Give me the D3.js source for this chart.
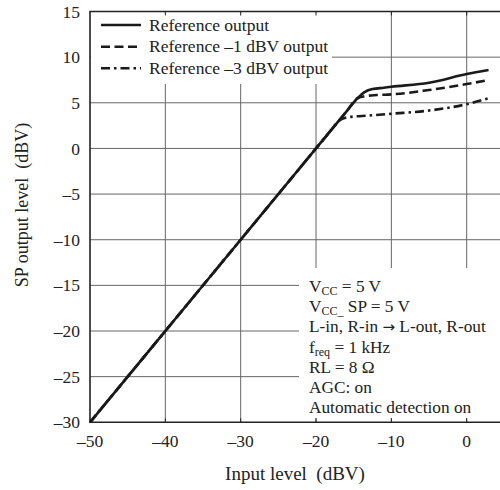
<!DOCTYPE html>
<html>
<head>
<meta charset="utf-8">
<script src="https://cdn.jsdelivr.net/npm/d3@7"></script>
<style>
  body { margin: 0; background: #fff; }
  svg text { font-family: "Liberation Serif", "Times New Roman", serif; fill: #222; white-space: pre; }
</style>
</head>
<body>
<div id="chart"></div>
<script>
// tick values
const xTicks = [-50, -40, -30, -20, -10, 0];
const yTicks = [-30, -25, -20, -15, -10, -5, 0, 5, 10, 15];

// curves (input dBV -> output dBV)
const refIn   = [-50, -40, -30, -20, -16, -14.5, -13.5, -12.5, -11, -10, -5, 0, 2.9];
const refOut  = [-30, -20, -10, 0, 4, 5.5, 6.2, 6.5, 6.65, 6.75, 7.2, 8.15, 8.6];
const ref1In  = [-50, -40, -30, -20, -16, -14.5, -13.3, -12, -10, -5, 0, 2.9];
const ref1Out = [-30, -20, -10, 0, 4, 5.5, 5.75, 5.85, 5.92, 6.4, 7.05, 7.5];
const ref3In  = [-50, -40, -30, -20, -18, -17, -15.5, -13, -10, -5, 0, 2.9];
const ref3Out = [-30, -20, -10, 0, 2, 3, 3.45, 3.6, 3.8, 4.15, 4.85, 5.5];

const legendLabels = ["Reference output", "Reference \u20131 dBV output", "Reference \u20133 dBV output"];
const notes = ["V|CC| = 5 V", "V|CC_| SP = 5 V", "L-in, R-in \u2192 L-out, R-out", "f|req| = 1 kHz", "RL = 8 \u03a9", "AGC: on", "Automatic detection on"];

const width = 500, height = 490;
const marginLeft = 90, marginRight = 0, marginTop = 11.5, marginBottom = 67.7;

const minus = v => (v < 0 ? "\u2013" + Math.abs(v) : String(v));

const x = d3.scaleLinear([-50, 0], [marginLeft, 466.7]);
const y = d3.scaleLinear([-30, 15], [height - marginBottom, marginTop]);
const x1 = width - marginRight, y1 = height - marginBottom;

const svg = d3.select("#chart").append("svg")
    .attr("width", width)
    .attr("height", height)
    .attr("viewBox", [0, 0, width, height]);

// grid
svg.append("g")
    .attr("stroke", "#666")
    .attr("stroke-width", 1)
    .call(g => g.selectAll(".v").data(xTicks.slice(1)).join("line")
        .attr("x1", d => x(d)).attr("x2", d => x(d))
        .attr("y1", marginTop).attr("y2", y1))
    .call(g => g.selectAll(".h").data(yTicks.slice(1, -1)).join("line")
        .attr("y1", d => y(d)).attr("y2", d => y(d))
        .attr("x1", marginLeft).attr("x2", x1));

// white boxes for legend and notes
svg.append("rect").attr("fill", "#fff")
    .attr("x", marginLeft + 1).attr("y", marginTop + 1)
    .attr("width", 332 - marginLeft - 1).attr("height", 84 - marginTop - 1);
svg.append("rect").attr("fill", "#fff")
    .attr("x", 299).attr("y", 268)
    .attr("width", x1 - 299).attr("height", 150);

// inner ticks on top and bottom
svg.append("g")
    .attr("stroke", "#222")
    .attr("stroke-width", 1)
    .selectAll("line")
    .data(xTicks.slice(1))
    .join("line")
    .attr("x1", d => x(d)).attr("x2", d => x(d))
    .attr("y1", y1).attr("y2", y1 - 4);
svg.append("g")
    .attr("stroke", "#222")
    .attr("stroke-width", 1)
    .selectAll("line")
    .data(xTicks.slice(1))
    .join("line")
    .attr("x1", d => x(d)).attr("x2", d => x(d))
    .attr("y1", marginTop).attr("y2", marginTop + 4);

// frame (left, top, bottom)
svg.append("path")
    .attr("fill", "none")
    .attr("stroke", "#222")
    .attr("stroke-width", 1.6)
    .attr("d", `M${x1},${marginTop}H${marginLeft}V${y1}H${x1}`);

// curves
const line = d3.line().x(d => x(d[0])).y(d => y(d[1])).curve(d3.curveMonotoneX);
const series = [
    { xs: ref3In, ys: ref3Out, dash: "9,4,2.5,4" },
    { xs: ref1In, ys: ref1Out, dash: "9,4.5" },
    { xs: refIn, ys: refOut, dash: null }
];
svg.append("g")
    .attr("fill", "none")
    .attr("stroke", "#1a1a1a")
    .attr("stroke-width", 2.6)
    .selectAll("path")
    .data(series)
    .join("path")
    .attr("stroke-dasharray", d => d.dash)
    .attr("d", d => line(d.xs.map((v, i) => [v, d.ys[i]])));

// axis labels
svg.append("g")
    .attr("font-size", 17.5)
    .attr("text-anchor", "middle")
    .selectAll("text")
    .data(xTicks)
    .join("text")
    .attr("x", d => x(d))
    .attr("y", 447)
    .text(minus);
svg.append("g")
    .attr("font-size", 17.5)
    .attr("text-anchor", "end")
    .selectAll("text")
    .data(yTicks)
    .join("text")
    .attr("x", 80)
    .attr("y", d => y(d))
    .attr("dy", "0.35em")
    .text(minus);

svg.append("text")
    .attr("x", (marginLeft + x1) / 2)
    .attr("y", 480)
    .attr("font-size", 19)
    .attr("text-anchor", "middle")
    .text("Input level  (dBV)");
svg.append("text")
    .attr("transform", `translate(28,205) rotate(-90)`)
    .attr("font-size", 18)
    .attr("text-anchor", "middle")
    .text("SP output level  (dBV)");

// legend
const legendY = [25, 46.7, 68.3];
const lg = svg.append("g");
lg.selectAll("line")
    .data(series.slice().reverse())
    .join("line")
    .attr("x1", 101).attr("x2", 141)
    .attr("y1", (d, i) => legendY[i]).attr("y2", (d, i) => legendY[i])
    .attr("stroke", "#1a1a1a")
    .attr("stroke-width", 2.6)
    .attr("stroke-dasharray", d => d.dash);
lg.selectAll("text")
    .data(legendLabels)
    .join("text")
    .attr("x", 149)
    .attr("y", (d, i) => legendY[i])
    .attr("dy", "0.33em")
    .attr("font-size", 17.5)
    .text(d => d);

// notes, "|" marks a subscript part
const ng = svg.append("g").attr("font-size", 17.3);
notes.forEach((n, i) => {
    const t = ng.append("text").attr("x", 309).attr("y", 292 + i * 20.2);
    n.split("|").forEach((part, j) => {
        if (j % 2 === 1) {
            t.append("tspan").attr("font-size", 12).attr("dy", 3).text(part);
        } else {
            const sp = t.append("tspan").attr("dy", j > 0 ? -3 : 0);
            part.split("\u2192").forEach((s, k) => {
                if (k > 0) sp.append("tspan").attr("font-family", "DejaVu Sans").attr("font-size", 15).text("\u2192");
                sp.append("tspan").text(s);
            });
        }
    });
});
</script>
</body>
</html>
